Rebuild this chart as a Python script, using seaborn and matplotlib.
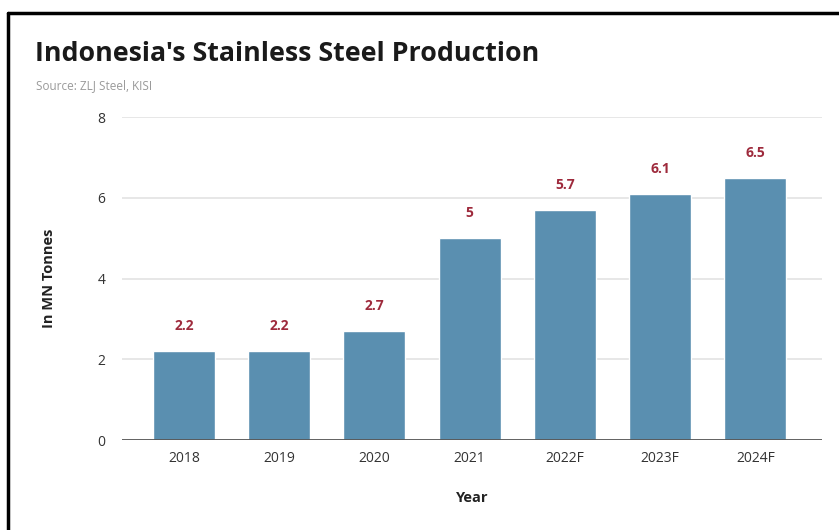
import matplotlib
matplotlib.use("Agg")
import matplotlib.pyplot as plt
import seaborn as sns
import pandas as pd
from matplotlib.lines import Line2D

years = ["2018", "2019", "2020", "2021", "2022F", "2023F", "2024F"]
production = [2.2, 2.2, 2.7, 5, 5.7, 6.1, 6.5]
value_labels = ["2.2", "2.2", "2.7", "5", "5.7", "6.1", "6.5"]
y_ticks = [0, 2, 4, 6, 8]

df = pd.DataFrame({"Year": years, "Production": production})

sns.set_theme(style="white")
plt.rcParams["font.family"] = ["Open Sans", "DejaVu Sans"]

fig = plt.figure(figsize=(8.39, 5.30), dpi=100)
ax = fig.add_axes([122/839, 1 - 440/530, (822-122)/839, (440-117)/530])

sns.barplot(data=df, x="Year", y="Production", color="#5a8fb0", width=0.65,
            saturation=1, ax=ax, zorder=3)

ax.set_ylim(0, 8)
ax.set_xlim(-0.65, 6.7)
ax.set_yticks(y_ticks)
ax.set_yticklabels([str(t) for t in y_ticks])
for t in y_ticks[1:]:
    ax.axhline(t, color="#e3e3e3", lw=1.2, zorder=1)
ax.axhline(0, color="#555555", lw=1.3, zorder=4)

for s in ["top", "right", "left", "bottom"]:
    ax.spines[s].set_visible(False)
ax.tick_params(axis="y", length=0, pad=12, labelsize=10, labelcolor="#333333")
ax.tick_params(axis="x", length=0, pad=8, labelsize=10, labelcolor="#333333")

for i, (v, lab) in enumerate(zip(production, value_labels)):
    ax.annotate(lab, (i, v), xytext=(0, 13), textcoords="offset points",
                ha="center", va="bottom", color="#9e2a3c", fontsize=10,
                fontweight="bold")

ax.set_xlabel("Year", fontsize=10.5, fontweight="bold", color="#222222", labelpad=18)
ax.set_ylabel("In MN Tonnes", fontsize=10.5, fontweight="bold", color="#222222", labelpad=30)

fig.text(35/839, 1 - 54/530, "Indonesia's Stainless Steel Production",
         fontsize=19.3, fontweight="bold", color="#1a1a1a", va="center", ha="left")
fig.text(36/839, 1 - 86/530, "Source: ZLJ Steel, KISI", fontsize=8.5,
         color="#9a9a9a", va="center", ha="left")

# partial black frame (top and left)
fig.add_artist(Line2D([8/839, 8/839], [0, 1 - 13/530], color="black", lw=2.5,
                      transform=fig.transFigure))
fig.add_artist(Line2D([8/839, 1], [1 - 13/530, 1 - 13/530], color="black", lw=2.5,
                      transform=fig.transFigure))

fig.savefig("out.png", dpi=100)
